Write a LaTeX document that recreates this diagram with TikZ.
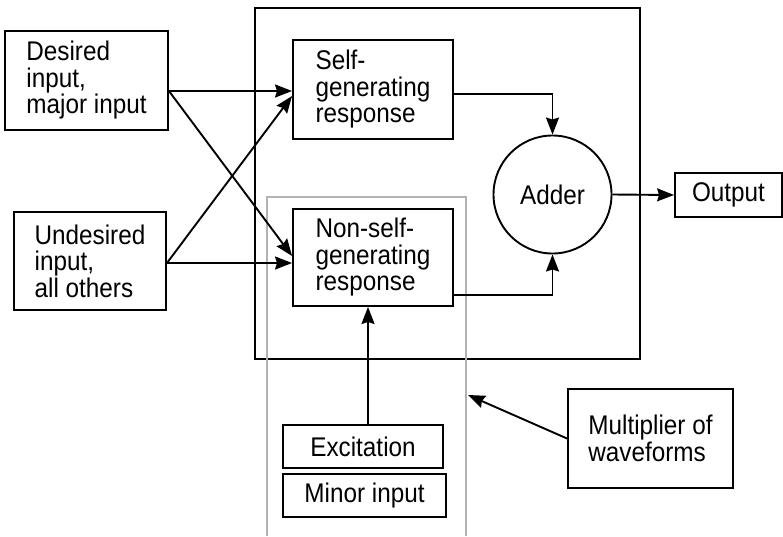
\documentclass[tikz,border=0pt]{standalone}
\usepackage{fontspec}
\setmainfont{Liberation Sans}[FakeStretch=0.9]
\usetikzlibrary{arrows.meta}
\begin{document}
\begin{tikzpicture}[x=1pt,y=-1pt,
  font=\fontsize{27}{26.5}\selectfont,
  box/.style={draw, line width=1.9pt, inner sep=0pt, align=left},
  cbox/.style={box, align=center},
  arr/.style={line width=1.9pt, -{Stealth[length=17pt,width=13pt,inset=2pt]}},
  frame/.style={draw=gray!60, line width=1.2pt}]
\useasboundingbox (0,0) rectangle (783,536);
% outer system box
\node[draw, line width=1.9pt, minimum width=385pt, minimum height=351pt, inner sep=0pt] (system) at (447.5,183.5) {};
% grey multiplier frame
\draw[frame] (267,536) -- (267,197) -- (466,197) -- (466,536);
\coordinate (g) at (468,395);
% nodes
\node[box, minimum width=163pt, minimum height=99pt] (desired) at (86.5,80.5) {Desired\\input,\\major input};
\node[box, minimum width=152pt, minimum height=98pt] (undesired) at (90,261) {Undesired\\input,\\all others};
\node[box, minimum width=160pt, minimum height=99pt] (self) at (373,89.5) {Self-\\generating\\response};
\node[box, minimum width=160pt, minimum height=97pt] (nonself) at (373,257.5) {Non-self-\\generating\\response};
\node[draw, circle, line width=1.9pt, minimum size=118pt, inner sep=0pt] (adder) at (552.5,194.5) {Adder};
\node[cbox, minimum width=107pt, minimum height=44pt] (output) at (728.5,195) {Output};
\node[cbox, minimum width=160pt, minimum height=43pt] (excitation) at (363,446.5) {Excitation};
\node[cbox, minimum width=163pt, minimum height=43pt] (minor) at (364.5,495.5) {Minor input};
\node[box, minimum width=165pt, minimum height=99pt] (mult) at (650.5,438.5) {Multiplier of\\waveforms};
% connectors
\draw[arr] (desired.east |- 0,91) -- (self.west |- 0,91);
\draw[arr] (desired.east |- 0,91) -- (nonself.west |- 0,256);
\draw[arr] (undesired.east |- 0,263) -- (self.west |- 0,96);
\draw[arr] (undesired.east |- 0,263) -- (nonself.west |- 0,263);
\draw[arr] (self.east |- 0,94) -| (adder.north);
\draw[arr] (nonself.east |- 0,295) -| (adder.south);
\draw[arr] (adder.east) -- (output.west);
\draw[arr] (excitation.north -| 368,0) -- (nonself.south -| 368,0);
\draw[arr] (mult.west) -- (g);
\end{tikzpicture}
\end{document}
